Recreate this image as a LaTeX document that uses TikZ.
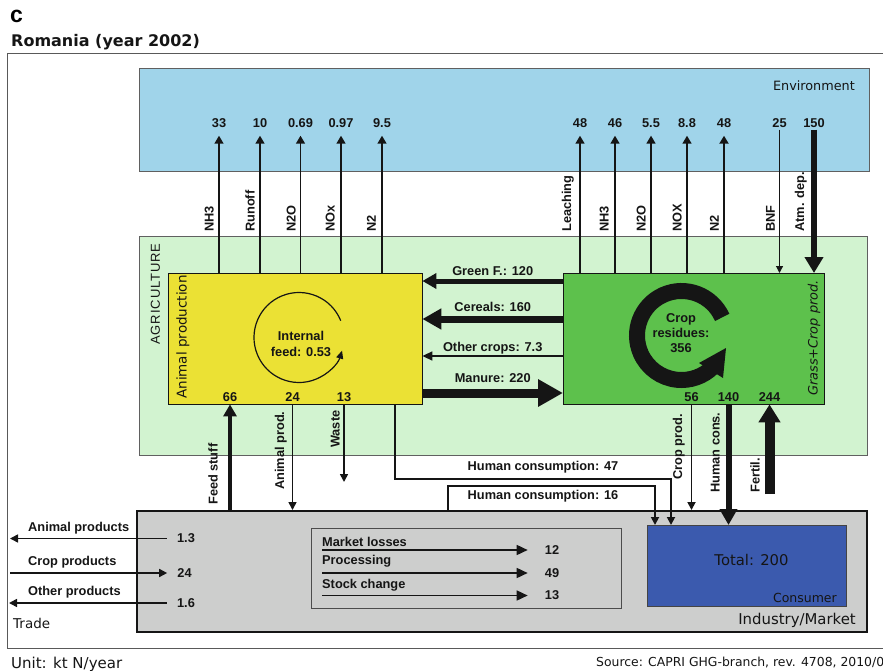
\documentclass[tikz,border=0pt]{standalone}
\usepackage{fontspec}
\setmainfont{Liberation Sans}
\newfontfamily\comicfont{DejaVu Sans}
\usetikzlibrary{positioning,arrows.meta}
\definecolor{envblue}{HTML}{A0D4EA}
\definecolor{agrigreen}{HTML}{D2F3D0}
\definecolor{animalyellow}{HTML}{EBE134}
\definecolor{cropgreen}{HTML}{5DC14C}
\definecolor{indgrey}{HTML}{CDCECD}
\definecolor{consblue}{HTML}{3B5AAE}
\definecolor{ink}{HTML}{151515}
\tikzset{box/.style = {draw, inner sep=0pt, anchor=north west}}
\tikzset{lbl/.style = {font=\bfseries\fontsize{12.8}{15}\selectfont, text=ink, inner sep=0pt}}
\tikzset{vlbl/.style = {lbl, rotate=90, anchor=south west}}
\tikzset{comic/.style = {text=ink, inner sep=0pt}}
\tikzset{flow/.style = {draw=ink, line width=1.6pt, -{Triangle[length=8pt, width=8pt]}}}
\tikzset{toenv/.style = {flow, -{Triangle[length=8pt, width=9pt]}, shorten >=8pt}}

\begin{document}
\begin{tikzpicture}[x=1pt, y=-1pt]
  \useasboundingbox (0,0) rectangle (883,671);

  % title
  \node[font=\bfseries\fontsize{23}{25}\selectfont, inner sep=0pt, anchor=base west] (fig) at (10,23) {c};
  \node[comic, font=\comicfont\bfseries\fontsize{16}{18}\selectfont, anchor=base west] (title) at (11,46.5) {Romania (year 2002)};

  % boxes
  \node[box, draw=gray!70!black, line width=1.3pt, minimum width=900pt, minimum height=595pt] (frame) at (7,53) {};
  \node[box, fill=envblue, draw=gray!75!black, minimum width=730pt, minimum height=103pt] (env) at (139,68) {};
  \node[box, fill=agrigreen, draw=gray!75!black, minimum width=728pt, minimum height=219pt] (agri) at (139,236) {};
  \node[box, fill=animalyellow, draw=ink, minimum width=254pt, minimum height=131pt] (animal) at (168,273) {};
  \node[box, fill=cropgreen, draw=ink, minimum width=261pt, minimum height=131pt] (crop) at (563,273) {};
  \node[box, fill=indgrey, draw=ink, line width=1.8pt, minimum width=730pt, minimum height=121pt] (industry) at (136,510) {};
  \node[box, fill=indgrey, draw=gray!60!black, minimum width=310pt, minimum height=80pt] (market) at (311,528) {};
  \node[box, fill=consblue, draw=ink!80, minimum width=199pt, minimum height=81pt] (consumer) at (647,525) {};

  % box titles
  \node[comic, font=\comicfont\fontsize{12.8}{15}\selectfont, anchor=base east] (envt) at (855,90.5) {Environment};
  \node[comic, font=\fontsize{13}{15}\selectfont\addfontfeatures{LetterSpace=7}, rotate=90] (agrit) at (155.5,294) {AGRICULTURE};
  \node[comic, font=\comicfont\fontsize{13.5}{15}\selectfont, rotate=90] (animalt) at (183,337) {Animal production};
  \node[comic, font=\comicfont\itshape\fontsize{12.9}{15}\selectfont, rotate=90] (cropt) at (814,338) {Grass+Crop prod.};
  \node[comic, font=\comicfont\fontsize{14.8}{17}\selectfont, anchor=base] (total) at (751.5,565) {Total: 200};
  \node[comic, font=\comicfont\fontsize{12.5}{15}\selectfont, anchor=base east] (consumert) at (837,602.5) {Consumer};
  \node[comic, font=\comicfont\fontsize{14.9}{17}\selectfont, anchor=base east] (industryt) at (856,624) {Industry/Market};
  \node[comic, font=\comicfont\fontsize{13.5}{15}\selectfont, anchor=base west] (trade) at (13,628) {Trade};
  \node[comic, font=\comicfont\fontsize{15}{17}\selectfont, anchor=base west] (unit) at (11,668) {Unit: kt N/year};
  \node[comic, font=\comicfont\fontsize{12.4}{15}\selectfont, anchor=base west] (source) at (596,666) {Source: CAPRI GHG-branch, rev. 4708, 2010/0};

  % environment values
  \node[lbl] (e33) at (219,123) {33};
  \node[lbl] (e10) at (260,123) {10};
  \node[lbl] (e069) at (300.5,123) {0.69};
  \node[lbl] (e097) at (341,123) {0.97};
  \node[lbl] (e95) at (382,123) {9.5};
  \node[lbl] (e48a) at (580,123) {48};
  \node[lbl] (e46) at (615,123) {46};
  \node[lbl] (e55) at (651,123) {5.5};
  \node[lbl] (e88) at (687,123) {8.8};
  \node[lbl] (e48b) at (724,123) {48};
  \node[lbl] (e25) at (779.5,123) {25};
  \node[lbl] (e150) at (814,123) {150};

  % losses to the environment
  \draw[toenv] (e33 |- animal.north) -- (e33.south);
  \draw[toenv] (e10 |- animal.north) -- (e10.south);
  \draw[toenv] (e069 |- animal.north) -- (e069.south);
  \draw[toenv] (e097 |- animal.north) -- (e097.south);
  \draw[toenv] (e95 |- animal.north) -- (e95.south);
  \draw[toenv] (e48a |- crop.north) -- (e48a.south);
  \draw[toenv] (e46 |- crop.north) -- (e46.south);
  \draw[toenv] (e55 |- crop.north) -- (e55.south);
  \draw[toenv] (e88 |- crop.north) -- (e88.south);
  \draw[toenv, line width=2.4pt] (e48b |- crop.north) -- (e48b.south);
  \draw[flow, line width=1.2pt, -{Triangle[length=7pt, width=7pt]}] ([yshift=-2pt]e25.south) -- (e25 |- crop.north);
  \draw[flow, line width=6pt, -{Triangle[length=16pt, width=18pt]}] ([yshift=-2pt]e150.south) -- (e150 |- crop.north);

  \node[vlbl] (lnh3a) at (214,232) {NH3};
  \node[vlbl] (lrun) at (255,232) {Runoff};
  \node[vlbl] (ln2oa) at (296,232) {N2O};
  \node[vlbl] (lnoxa) at (335,232) {NOx};
  \node[vlbl] (ln2a) at (376,232) {N2};
  \node[vlbl] (lleach) at (574,232) {Leaching};
  \node[vlbl] (lnh3b) at (609,232) {NH3};
  \node[vlbl] (ln2ob) at (646,232) {N2O};
  \node[vlbl] (lnoxb) at (682,232) {NOX};
  \node[vlbl] (ln2b) at (719,232) {N2};
  \node[vlbl] (lbnf) at (775,232) {BNF};
  \node[vlbl] (latm) at (807,232) {Atm. dep.};

  % internal flows
  \node[lbl, align=center, font=\bfseries\fontsize{12.8}{16}\selectfont] (feed) at (301,344) {Internal\\feed: 0.53};
  \draw[ink, line width=1.2pt, -{Triangle[length=8pt, width=7pt]}] (299,337.5) ++(22:45pt) arc[start angle=22, end angle=343, radius=45pt];
  \node[lbl, align=center] (cropres) at (681,333) {Crop\\residues:\\356};
  \draw[ink, line width=16pt] (681.5,335.5) ++(24:44.5pt) arc[start angle=24, end angle=315, radius=44.5pt];
  \fill[ink] (699,363) -- (726,348) -- (723,378) -- cycle;

  % between the two producers
  \draw[flow, line width=5pt, -{Triangle[length=14pt, width=15pt]}] (crop.west |- 0,281) -- (animal.east |- 0,281)
    node[lbl, midway, anchor=base, yshift=5.8pt] {Green F.: 120};
  \draw[flow, line width=7pt, -{Triangle[length=19pt, width=20pt]}] (crop.west |- 0,319) -- (animal.east |- 0,319)
    node[lbl, midway, anchor=base, yshift=7.5pt] {Cereals: 160};
  \draw[flow, -{Triangle[length=10pt, width=9pt]}] (crop.west |- 0,356) -- (animal.east |- 0,356)
    node[lbl, midway, anchor=base, yshift=4.8pt] {Other crops: 7.3};
  \draw[flow, line width=9pt, -{Triangle[length=25pt, width=26pt]}] (animal.east |- 0,393) -- (crop.west |- 0,393)
    node[lbl, midway, anchor=base, yshift=10.2pt] {Manure: 220};

  \node[lbl] (a66) at (230,397) {66};
  \node[lbl] (a24) at (292.5,397) {24};
  \node[lbl] (a13) at (344,397) {13};
  \node[lbl] (c56) at (691.5,397) {56};
  \node[lbl] (c140) at (728.5,397) {140};
  \node[lbl] (c244) at (769.5,397) {244};

  % to and from industry
  \coordinate (waste) at (344,482);
  \coordinate (fert) at (769.5,494);
  \coordinate (hc47) at (671,479);
  \coordinate (hc16) at (655,486);
  \draw[flow, line width=4pt, -{Triangle[length=12pt, width=13pt]}] (industry.north -| a66) -- (a66 |- animal.south);
  \draw[flow] (a24 |- animal.south) -- (industry.north -| a24);
  \draw[flow] (a13 |- animal.south) -- (waste);
  \draw[flow, line width=1.8pt] (animal.south -| 395,0) |- (hc47) -- (hc47 |- consumer.north);
  \node[lbl] (hc47t) at (543,467) {Human consumption: 47};
  \draw[flow, line width=1.8pt] (industry.north -| 448,0) |- (hc16) -- (hc16 |- consumer.north);
  \node[lbl] (hc16t) at (543,496) {Human consumption: 16};
  \draw[flow, line width=1.8pt] (c56 |- crop.south) -- (industry.north -| c56);
  \draw[flow, line width=6pt, -{Triangle[length=16pt, width=17pt]}] (c140 |- crop.south) -- (c140 |- consumer.north);
  \draw[flow, line width=10pt, -{Triangle[length=18pt, width=21pt]}] (fert) -- (c244 |- crop.south);

  \node[vlbl] (lfeed) at (218,505) {Feed stuff};
  \node[vlbl] (lanim) at (287,490) {Animal prod.};
  \node[vlbl] (lwaste) at (340,448) {Waste};
  \node[vlbl] (lcrop) at (685,480) {Crop prod.};
  \node[vlbl] (lhum) at (720,493) {Human cons.};
  \node[vlbl] (lfert) at (760,493) {Fertil.};

  % market
  \node[lbl, anchor=west] (ml) at (322,541.5) {Market losses};
  \node[lbl, anchor=west] (pr) at (322,561.5) {Processing};
  \node[lbl, anchor=west] (sc) at (322,585.5) {Stock change};
  \node[lbl] (v12) at (552,550) {12};
  \node[lbl] (v49) at (552,573) {49};
  \node[lbl] (v13m) at (552,595.5) {13};
  \draw[flow, -{Triangle[length=11pt, width=10pt]}] (ml.west |- v12) -- ([xshift=-17pt]v12.west);
  \draw[flow, -{Triangle[length=11pt, width=10pt]}] (pr.west |- v49) -- ([xshift=-17pt]v49.west);
  \draw[flow, -{Triangle[length=11pt, width=10pt]}] (sc.west |- v13m) -- ([xshift=-17pt]v13m.west);

  % trade
  \node[lbl, anchor=west] (tani) at (28,528) {Animal products};
  \node[lbl, anchor=west] (tcrop) at (28,562) {Crop products};
  \node[lbl, anchor=west] (toth) at (28,592) {Other products};
  \node[lbl] (v13) at (186,538.5) {1.3};
  \node[lbl] (v24) at (184.5,573) {24};
  \node[lbl] (v16) at (186,603) {1.6};
  \draw[flow, shorten >=3pt] ([xshift=-10pt]v13.west) -- (frame.west |- v13);
  \draw[flow, shorten <=3pt] (frame.west |- v24) -- ([xshift=-10pt]v24.west);
  \draw[flow, shorten >=2pt] ([xshift=-10pt]v16.west) -- (frame.west |- v16);
\end{tikzpicture}
\end{document}
